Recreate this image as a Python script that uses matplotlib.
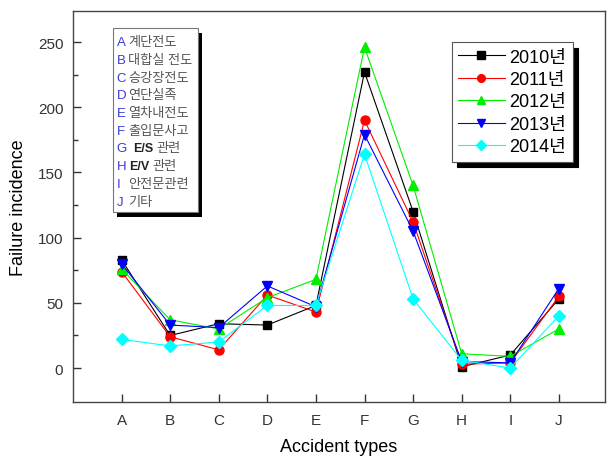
import numpy as np
import matplotlib
matplotlib.use("Agg")
import matplotlib.pyplot as plt
from matplotlib.patches import Rectangle

plt.rcParams['font.family'] = ['Liberation Sans', 'Noto Sans CJK KR', 'DejaVu Sans']

# 사고 유형별 장애 건수
types = ['A', 'B', 'C', 'D', 'E', 'F', 'G', 'H', 'I', 'J']
y2010 = [83, 25, 34, 33, 48, 227, 120, 1, 10, 53]
y2011 = [74, 24, 14, 56, 43, 190, 112, 3, 4, 55]
y2012 = [76, 37, 30, 54, 68, 246, 140, 11, 9, 30]
y2013 = [80, 33, 31, 63, 47, 179, 105, 5, 4, 61]
y2014 = [22, 17, 20, 48, 48, 164, 53, 6, 0, 40]
years = ['2010년', '2011년', '2012년', '2013년', '2014년']

type_names = ['계단전도', '대합실 전도', '승강장전도', '연단실족', '열차내전도',
              '출입문사고', 'E/S관련', 'E/V관련', '안전문관련', '기타']

W, H = 609, 460
left, right, top, bottom = 73, 605, 11.7, 403
fig = plt.figure(figsize=(W / 100, H / 100), dpi=100)
ax = fig.add_axes([left / W, 1 - bottom / H, (right - left) / W, (bottom - top) / H])

x = np.arange(1, len(types) + 1)
series = [y2010, y2011, y2012, y2013, y2014]
colors = ['black', 'red', '#00ee00', '#0000ff', '#00ffff']
markers = ['s', 'o', '^', 'v', 'D']
msizes = [6, 6.5, 7.5, 7.5, 6]
for vals, c, m, ms, lab in zip(series, colors, markers, msizes, years):
    ax.plot(x, vals, color=c, lw=0.8, marker=m, ms=ms, mec=c, label=lab)

ax.set_xlim(0, 10.95)
ax.set_ylim(-26, 274)
ax.set_xticks(x)
ax.set_xticklabels(types)
ax.set_yticks(np.arange(0, 251, 50))
ax.set_yticks(np.arange(25, 251, 50), minor=True)
ax.tick_params(direction='in', length=6, width=1, labelsize=11, colors='#333333', pad=7)
ax.tick_params(axis='x', pad=8)
ax.tick_params(which='minor', direction='in', length=3.5, width=1, colors='#333333')
for s in ax.spines.values():
    s.set_color('#444444')
    s.set_linewidth(1)

ax.set_xlabel('Accident types', fontsize=13, labelpad=8)
ax.set_ylabel('Failure incidence', fontsize=13, labelpad=8)

leg = ax.legend(loc='upper left',
                bbox_to_anchor=((451.7 - left) / (right - left), 1 - (43.3 - top) / (bottom - top)),
                fontsize=13, handlelength=2.6, handletextpad=0.25, labelspacing=0.3,
                borderpad=0.35, borderaxespad=0, fancybox=False, markerscale=0.85,
                shadow={'color': 'black', 'alpha': 1, 'ox': 4, 'oy': -4})
leg.get_frame().set_edgecolor('#555555')
leg.get_frame().set_linewidth(0.8)

# 사고 유형 설명 박스
def fx(px):
    return px / W

def fy(py):
    return 1 - py / H

bx0, bx1, by0, by1 = 113.3, 198, 29.3, 213.3
fig.patches.append(Rectangle((fx(bx0 + 4), fy(by1 + 5)), fx(bx1 - bx0), (by1 - by0) / H,
                             transform=fig.transFigure, facecolor='black', edgecolor='none', zorder=5))
fig.patches.append(Rectangle((fx(bx0), fy(by1)), fx(bx1 - bx0), (by1 - by0) / H,
                             transform=fig.transFigure, facecolor='white', edgecolor='#777777',
                             lw=0.8, zorder=6))
for i, (t, name) in enumerate(zip(types, type_names)):
    ty = fy(43.3 + i * 17.7)
    fig.text(fx(116.5), ty, t, color='#3a3ad8', fontsize=9.5, va='center', zorder=7)
    if name.startswith('E/'):
        fig.text(fx(129 if t == 'H' else 133), ty, name[:3], color='#222222', fontsize=9,
                 fontweight='bold', va='center', zorder=7)
        fig.text(fx(152 if t == 'H' else 156), ty, name[3:], color='#555555', fontsize=9.5,
                 va='center', zorder=7)
    else:
        fig.text(fx(128.5), ty, name, color='#555555', fontsize=9.5, va='center', zorder=7)

fig.savefig('out.png', dpi=100)
